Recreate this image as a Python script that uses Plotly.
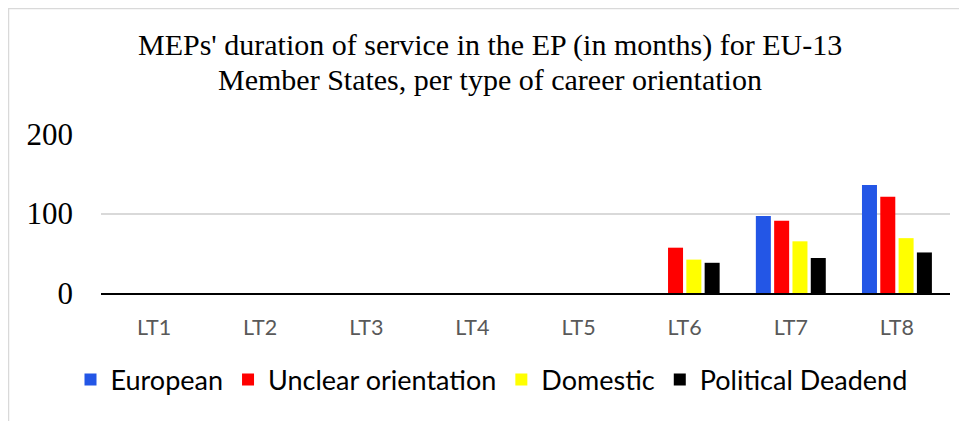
import plotly.graph_objects as go

categories = ["LT1", "LT2", "LT3", "LT4", "LT5", "LT6", "LT7", "LT8"]
european = [0, 0, 0, 0, 0, 0, 97, 136]
unclear = [0, 0, 0, 0, 0, 57, 91, 121]
domestic = [0, 0, 0, 0, 0, 42, 65, 69]
deadend = [0, 0, 0, 0, 0, 38, 44, 51]
series_names = ["European", "Unclear orientation", "Domestic", "Political Deadend"]
series_colors = ["#2356E6", "#FF0000", "#FFFF00", "#000000"]
y_ticks = [0, 100, 200]
title_lines = ["MEPs' duration of service in the EP (in months) for EU-13",
               "Member States, per type of career orientation"]

W, H = 967, 421
L, R, T, B = 93, 25, 126, 136

fig = go.Figure()
for name, vals, col in zip(series_names, [european, unclear, domestic, deadend], series_colors):
    fig.add_trace(go.Bar(x=categories, y=vals, name=name,
                         marker=dict(color=col, line=dict(width=0))))

pw, ph = W - L - R, H - T - B
def px2x(px):
    return (px - L) / pw
def py2y(py):
    return (H - B - py) / ph

annotations = []
for i, (line, cy) in enumerate(zip(title_lines, [37, 71])):
    annotations.append(dict(text=line, xref="paper", yref="paper",
                            x=px2x(482), y=py2y(cy), xanchor="center", yanchor="middle",
                            showarrow=False,
                            font=dict(family="Liberation Serif", size=30, color="#000000")))

fig.update_layout(
    width=W, height=H,
    margin=dict(l=L, r=R, t=T, b=B),
    paper_bgcolor="white", plot_bgcolor="white",
    barmode="group", bargap=0.31, bargroupgap=0.18,
    annotations=annotations,
    xaxis=dict(showgrid=False, showline=True, linecolor="#000000", linewidth=2,
               ticks="", ticklabelstandoff=14, automargin=False,
               tickfont=dict(family="Lato", size=21.5, color="#595959")),
    yaxis=dict(range=[0, 200], tickvals=y_ticks, showgrid=True, gridcolor="#D9D9D9",
               gridwidth=1.5, zeroline=False, showline=False, ticks="",
               ticklabelstandoff=27, automargin=False,
               tickfont=dict(family="Liberation Serif", size=31, color="#000000")),
    legend=dict(orientation="h", x=0.5, xanchor="center", xref="container",
                y=1 - 372 / H, yanchor="middle", yref="container",
                font=dict(family="Lato", size=27, color="#000000"),
                itemwidth=30, traceorder="normal"),
    showlegend=True,
    shapes=[dict(type="rect", xref="paper", yref="paper",
                 x0=px2x(0.5), x1=px2x(W - 0.5), y0=py2y(0.5), y1=py2y(H - 0.5),
                 line=dict(color="#D9D9D9", width=1.5), fillcolor="rgba(0,0,0,0)", layer="below")],
)

fig.write_html("out.html")
